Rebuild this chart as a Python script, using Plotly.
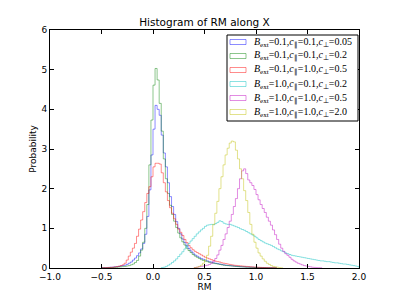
import plotly.graph_objects as go

BIN_WIDTH = 0.02

LABELS = [
    "<i>B</i><sub>ext</sub>=0.1,<i>c</i><sub>∥</sub>=0.1,<i>c</i><sub>⊥</sub>=0.05",
    "<i>B</i><sub>ext</sub>=0.1,<i>c</i><sub>∥</sub>=0.1,<i>c</i><sub>⊥</sub>=0.2",
    "<i>B</i><sub>ext</sub>=0.1,<i>c</i><sub>∥</sub>=1.0,<i>c</i><sub>⊥</sub>=0.5",
    "<i>B</i><sub>ext</sub>=1.0,<i>c</i><sub>∥</sub>=0.1,<i>c</i><sub>⊥</sub>=0.2",
    "<i>B</i><sub>ext</sub>=1.0,<i>c</i><sub>∥</sub>=1.0,<i>c</i><sub>⊥</sub>=0.5",
    "<i>B</i><sub>ext</sub>=1.0,<i>c</i><sub>∥</sub>=1.0,<i>c</i><sub>⊥</sub>=2.0",
]
COLORS = [
    "rgba(0,0,255,0.45)",
    "rgba(0,128,0,0.45)",
    "rgba(255,0,0,0.45)",
    "rgba(0,191,191,0.45)",
    "rgba(191,0,191,0.45)",
    "rgba(191,191,0,0.45)",
]

# first bin edge of each series
START_EDGES = [-0.50, -0.50, -0.50, 0.08, 0.40, 0.40]

blue_vals = [
    0.01, 0.01, 0.01, 0.015, 0.02, 0.02, 0.03, 0.03, 0.04, 0.05,
    0.06, 0.07, 0.09, 0.12, 0.15, 0.2, 0.25, 0.31, 0.38, 0.48,
    0.62, 0.85, 1.3, 1.97, 2.85, 3.5, 4.1, 4.0, 3.85, 3.35,
    2.9, 2.55, 2.15, 1.8, 1.55, 1.35, 1.17, 1.0, 0.86, 0.73,
    0.64, 0.56, 0.49, 0.43, 0.38, 0.33, 0.30, 0.27, 0.24, 0.22,
    0.2, 0.18, 0.16, 0.15, 0.13, 0.12, 0.11, 0.1, 0.09, 0.08,
    0.07, 0.065, 0.06, 0.055, 0.05, 0.045, 0.04, 0.035, 0.03, 0.03,
    0.025, 0.025, 0.02, 0.02, 0.015, 0.015, 0.01, 0.01, 0.01, 0.008,
    0.007, 0.006, 0.005, 0.004, 0.003,
]
green_vals = [
    0.005, 0.005, 0.005, 0.008, 0.01, 0.01, 0.015, 0.02, 0.025, 0.03,
    0.035, 0.04, 0.05, 0.06, 0.08, 0.1, 0.14, 0.19, 0.3, 0.45,
    0.65, 1.0, 1.6, 2.6, 3.73, 4.61, 5.03, 4.74, 4.15, 3.45,
    2.75, 2.25, 1.88, 1.58, 1.35, 1.18, 1.02, 0.88, 0.76, 0.66,
    0.58, 0.5, 0.44, 0.39, 0.34, 0.30, 0.27, 0.24, 0.21, 0.19,
    0.17, 0.16, 0.14, 0.13, 0.12, 0.11, 0.1, 0.09, 0.08, 0.07,
    0.065, 0.06, 0.055, 0.05, 0.045, 0.04, 0.035, 0.03, 0.03, 0.025,
    0.02, 0.02, 0.018, 0.015, 0.012, 0.01, 0.01, 0.008, 0.007, 0.006,
    0.005, 0.004, 0.004, 0.003, 0.002,
]
red_vals = [
    0.005, 0.008, 0.01, 0.012, 0.015, 0.02, 0.025, 0.035, 0.045, 0.06,
    0.08, 0.12, 0.2, 0.3, 0.4, 0.5, 0.62, 0.8, 0.98, 1.21,
    1.42, 1.65, 1.88, 2.05, 2.3, 2.55, 2.64, 2.64, 2.62, 2.4,
    2.15, 1.92, 1.7, 1.52, 1.38, 1.24, 1.1, 0.98, 0.9, 0.82,
    0.72, 0.64, 0.57, 0.51, 0.46, 0.42, 0.39, 0.36, 0.33, 0.30,
    0.27, 0.25, 0.23, 0.21, 0.19, 0.17, 0.16, 0.15, 0.13, 0.12,
    0.11, 0.1, 0.09, 0.08, 0.07, 0.065, 0.06, 0.055, 0.05, 0.045,
    0.04, 0.035, 0.03, 0.027, 0.024, 0.02, 0.018, 0.015, 0.013, 0.011,
    0.01, 0.008, 0.007, 0.006, 0.005,
]
cyan_vals = [
    0.01, 0.02, 0.04, 0.07, 0.1, 0.14, 0.18, 0.23, 0.29, 0.35,
    0.41, 0.48, 0.55, 0.62, 0.68, 0.74, 0.8, 0.86, 0.91, 0.96,
    1.0, 1.05, 1.08, 1.09, 1.1, 1.09, 1.12, 1.15, 1.19, 1.17,
    1.13, 1.11, 1.1, 1.1, 1.08, 1.06, 1.04, 1.02, 0.99, 0.97,
    0.95, 0.92, 0.89, 0.86, 0.83, 0.8, 0.76, 0.72, 0.69, 0.66,
    0.63, 0.61, 0.59, 0.57, 0.54, 0.51, 0.48, 0.46, 0.43, 0.41,
    0.38, 0.36, 0.34, 0.32, 0.31, 0.3, 0.29, 0.28, 0.27, 0.26,
    0.25, 0.24, 0.23, 0.22, 0.21, 0.2, 0.19, 0.18, 0.18, 0.17,
    0.16, 0.16, 0.15, 0.14, 0.13, 0.13, 0.12, 0.11, 0.1, 0.1,
    0.09, 0.08, 0.07, 0.06, 0.05, 0.04,
]
magenta_vals = [
    0.01, 0.02, 0.03, 0.04, 0.05, 0.06, 0.07, 0.09, 0.12, 0.17,
    0.24, 0.33, 0.45, 0.57, 0.72, 0.86, 1.02, 1.18, 1.35, 1.55,
    1.75, 2.0, 2.25, 2.45, 2.5, 2.38, 2.22, 2.15, 2.08, 1.98,
    1.85, 1.72, 1.6, 1.5, 1.4, 1.28, 1.18, 1.08, 0.96, 0.84,
    0.72, 0.6, 0.5, 0.42, 0.36, 0.32, 0.27, 0.22, 0.18, 0.15,
    0.12, 0.1, 0.08, 0.06, 0.05, 0.04, 0.03, 0.02, 0.015, 0.01,
    0.008, 0.005,
]
yellow_vals = [
    0.01, 0.02, 0.04, 0.07, 0.12, 0.2, 0.32, 0.55, 0.8, 1.1,
    1.38, 1.68, 2.0, 2.3, 2.6, 2.85, 3.02, 3.15, 3.2, 3.18,
    2.97, 2.75, 2.5, 2.25, 1.95, 1.7, 1.4, 1.1, 0.85, 0.65,
    0.5, 0.38, 0.3, 0.23, 0.17, 0.12, 0.09, 0.06, 0.04, 0.03,
    0.02, 0.01, 0.005,
]
SERIES = [blue_vals, green_vals, red_vals, cyan_vals, magenta_vals, yellow_vals]

XTICKS = [-1.0, -0.5, 0.0, 0.5, 1.0, 1.5, 2.0]
XTICKLABELS = ["−1.0", "−0.5", "0.0", "0.5", "1.0", "1.5", "2.0"]
YTICKS = [0, 1, 2, 3, 4, 5, 6]
YTICKLABELS = ["0", "1", "2", "3", "4", "5", "6"]

# the page body has an 8px margin; the figure is sized to fit the 399x299 window
OFF = 8
W, H = 399 - OFF, 299 - OFF
ML, MR, MT, MB = 50 - OFF, 40, 30 - OFF, 31
PW, PH = W - ML - MR, H - MT - MB

fig = go.Figure()
for vals, start, col, lab in zip(SERIES, START_EDGES, COLORS, LABELS):
    edges = [start + i * BIN_WIDTH for i in range(len(vals) + 1)]
    xs = [edges[0]] + edges
    ys = [0] + list(vals) + [0]
    fig.add_trace(go.Scatter(x=xs, y=ys, mode="lines", line=dict(color=col, width=1, shape="hv"),
                             name=lab, showlegend=False, hoverinfo="skip"))


# helpers: window pixel -> paper coordinate
def px_x(p):
    return (p - OFF - ML) / PW


def px_y(p):
    return (H - MB - (p - OFF)) / PH


# manual legend (matplotlib style)
shapes = []
annotations = []
box_l, box_r, box_t = 227, 358, 35
step = 14
box_b = box_t + step * len(LABELS) + 2
shapes.append(dict(type="rect", xref="paper", yref="paper",
                   x0=px_x(box_l), x1=px_x(box_r), y0=px_y(box_b), y1=px_y(box_t),
                   line=dict(color="black", width=1), fillcolor="white", layer="above"))
for i, (col, lab) in enumerate(zip(COLORS, LABELS)):
    cy = box_t + 7 + i * step
    shapes.append(dict(type="rect", xref="paper", yref="paper",
                       x0=px_x(230), x1=px_x(246), y0=px_y(cy + 2.5), y1=px_y(cy - 2.5),
                       line=dict(color=col, width=1), fillcolor="rgba(0,0,0,0)", layer="above"))
    annotations.append(dict(xref="paper", yref="paper", x=px_x(252), y=px_y(cy),
                            xanchor="left", yanchor="middle", text=lab, showarrow=False,
                            font=dict(family="Liberation Serif", size=10, color="black")))

fig.update_layout(
    width=W, height=H,
    margin=dict(l=ML, r=MR, t=MT, b=MB, autoexpand=False),
    paper_bgcolor="white", plot_bgcolor="white",
    title=dict(text="Histogram of RM along X", x=(ML + PW / 2) / W, xanchor="center",
               y=1 - (22 - OFF) / H, yanchor="middle",
               font=dict(family="DejaVu Sans", size=10.5, color="black")),
    shapes=shapes, annotations=annotations,
    font=dict(family="DejaVu Sans", size=9, color="black"),
    showlegend=False,
)
fig.update_xaxes(range=[-1, 2], tickvals=XTICKS, ticktext=XTICKLABELS, ticks="inside", ticklen=4,
                 tickcolor="black", showline=True, linecolor="black", linewidth=1, mirror="ticks",
                 showgrid=False, zeroline=False, automargin=False,
                 title=dict(text="RM", font=dict(size=9), standoff=2))
fig.update_yaxes(range=[0, 6], tickvals=YTICKS, ticktext=YTICKLABELS, ticks="inside", ticklen=4,
                 tickcolor="black", showline=True, linecolor="black", linewidth=1, mirror="ticks",
                 showgrid=False, zeroline=False, automargin=False,
                 title=dict(text="Probability", font=dict(size=9), standoff=3))

fig.write_html("out.html")
